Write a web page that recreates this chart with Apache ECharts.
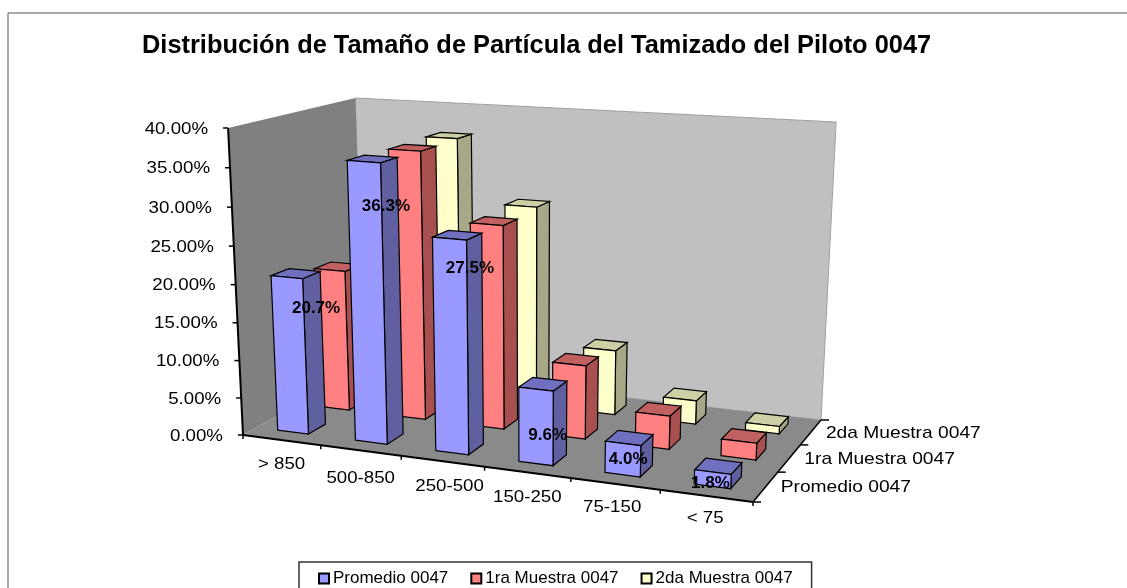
<!DOCTYPE html>
<html>
<head>
<meta charset="utf-8">
<style>html,body{margin:0;padding:0;background:#fff;overflow:hidden}#c{width:1127px;height:588px}</style>
<script src="https://cdn.jsdelivr.net/npm/echarts@6/dist/echarts.min.js"></script>
</head>
<body>
<div id="c"></div>
<script>
const chartTitle = 'Distribución de Tamaño de Partícula del Tamizado del Piloto 0047';
const categories = ['> 850', '500-850', '250-500', '150-250', '75-150', '< 75'];
const seriesNames = ['Promedio 0047', '1ra Muestra 0047', '2da Muestra 0047'];
const promedio = [20.7, 36.3, 27.5, 9.6, 4.0, 1.8];
const muestra1 = [19.3, 36.1, 27.2, 9.8, 4.4, 2.2];
const muestra2 = [22.1, 36.2, 27.6, 8.9, 3.2, 1.0];
const yTicks = [0, 5, 10, 15, 20, 25, 30, 35, 40];

// layout of the 3D box (screen pixels of its corners: front-left, front-right, back-right, back-left)
const floorQuad = [[243,435],[753,502],[821,420],[364,368]];
const topQuad = [[228,128],[765,167],[836,122],[355,98]];
const vanishX = 530, topScaleX = 1.052;
const labelShift = [[13,30],[5,44],[3,28],[-6,45],[-13,14],[-21,9]];
const categoryShift = [[2,24],[2,28],[9,25],[2,25],[-1,23],[1,22]];
const G = {left:243, top:128, width:510, height:307};

function homography(q){
  const [x0,y0]=q[0],[x1,y1]=q[1],[x2,y2]=q[2],[x3,y3]=q[3];
  const dx1=x1-x2,dx2=x3-x2,sx=x0-x1+x2-x3,dy1=y1-y2,dy2=y3-y2,sy=y0-y1+y2-y3;
  const den=dx1*dy2-dx2*dy1;
  const g=(sx*dy2-dx2*sy)/den,h=(dx1*sy-sx*dy1)/den;
  const a=x1-x0+g*x1,b=x3-x0+h*x3,d=y1-y0+g*y1,e=y3-y0+h*y3;
  return (u,v)=>{const k=g*u+h*v+1;return [(a*u+b*v+x0)/k,(d*u+e*v+y0)/k];};
}
const Hf=homography(floorQuad),Ht=homography(topQuad);
function P(u,v,w){
  const f=Hf(u,v),ty=Ht(u,v)[1],tx=vanishX+(f[0]-vanishX)*topScaleX,s=0.96*w/(1-0.04*w);
  return [f[0]+(tx-f[0])*s,f[1]+(ty-f[1])*s];
}
const poly=(pts,fill,stroke,lw)=>({type:'polygon',shape:{points:pts},style:{fill:fill,stroke:stroke||null,lineWidth:lw===undefined?1.2:lw}});
const seg=(a,b,c,lw)=>({type:'line',shape:{x1:a[0],y1:a[1],x2:b[0],y2:b[1]},style:{stroke:c||'#000',lineWidth:lw||1}});
const FONT='17px "Liberation Sans", Arial, sans-serif';
const txt=(x,y,s,align,font,sx)=>({type:'text',x:x,y:y,scaleX:sx||1.1,style:{text:s,align:align,verticalAlign:'middle',font:font||FONT,fill:'#000'}});
const uOf=api=>(i)=>(api.coord([i,0])[0]-G.left)/G.width;
const wOf=(api,val)=>(G.top+G.height-api.coord([0,val])[1])/G.height;

function frameItem(params,api){
  const c=[];
  c.push(poly([P(0,1,0),P(1,1,0),P(1,1,1),P(0,1,1)],'#c0c0c0','#a0a0a0',1));
  c.push(poly([P(0,0,0),P(0,1,0),P(0,1,1),P(0,0,1)],'#808080'));
  c.push(poly([P(0,0,0),P(1,0,0),P(1,1,0),P(0,1,0)],'#8a8a8a'));
  // axes
  c.push(seg(P(0,0,0),P(0,0,1),'#000',2));
  c.push(seg(P(0,0,0),P(1,0,0),'#000',2));
  c.push(seg(P(1,0,0),P(1,1,0),'#000',1.5));
  yTicks.forEach(t=>{const p=P(0,0,wOf(api,t));c.push(seg([p[0]-5,p[1]],p,'#000',1.5));});
  const band=api.size([1,0])[0]/G.width;
  const u0=uOf(api)(0)-band/2;
  categories.forEach((n,i)=>{const p=P(u0+band*i,0,0);c.push(seg(p,[p[0],p[1]+4],'#000',1.5));});
  const pe=P(1,0,0);c.push(seg(pe,[pe[0],pe[1]+4],'#000',1.5));
  seriesNames.forEach((n,i)=>{const p=P(1,i/3,0);c.push(seg(p,[p[0]+8,p[1]],'#000',1.5));});
  const pb=P(1,1,0);c.push(seg(pb,[pb[0]+8,pb[1]],'#000',1.5));
  return {type:'group',children:c};
}
function textItem(params,api){
  const c=[];
  yTicks.forEach(t=>{const p=P(0,0,wOf(api,t));c.push(txt(p[0]-20,p[1]+1,t.toFixed(2)+'%','right'));});
  categories.forEach((n,i)=>{const p=P(uOf(api)(i),0,0);c.push(txt(p[0]+categoryShift[i][0]-2,p[1]+categoryShift[i][1],n,'center'));});
  seriesNames.forEach((n,i)=>{const p=P(1,(i+0.5)/3,0);c.push(txt(p[0]+15,p[1]+1,n,'left',FONT,1.13));});
  promedio.forEach((val,i)=>{
    const band=api.size([1,0])[0]/G.width,um=uOf(api)(i);
    const p=P(um+band*0.2-0.004,0.105,wOf(api,val));
    c.push(txt(p[0]+labelShift[i][0],p[1]+labelShift[i][1],val.toFixed(1)+'%','center','bold 17px "Liberation Sans", Arial, sans-serif',1));
  });
  return {type:'group',children:c};
}
function barRenderer(depth,front,side,top){
  return function(params,api){
    const i=api.value(0),val=api.value(1);
    const um=(api.coord([i,0])[0]-G.left)/G.width-0.004;
    const hb=api.size([1,0])[0]/G.width*0.2;
    const w=wOf(api,val);
    const v0=(depth+0.5)/3-0.065,v1=(depth+0.5)/3+0.07,u0=um-hb,u1=um+hb;
    return {type:'group',children:[
      poly([P(u1,v0,0),P(u1,v1,0),P(u1,v1,w),P(u1,v0,w)],side,'#000'),
      poly([P(u0,v0,w),P(u1,v0,w),P(u1,v1,w),P(u0,v1,w)],top,'#000'),
      poly([P(u0,v0,0),P(u1,v0,0),P(u1,v0,w),P(u0,v0,w)],front,'#000')
    ]};
  };
}
const toData=a=>a.map((v,i)=>[i,v]);
const chart=echarts.init(document.getElementById('c'),null,{renderer:'canvas'});
chart.setOption({
  animation:false,
  backgroundColor:'#fff',
  title:{text:chartTitle,left:142,top:33,padding:0,textStyle:{color:'#000',fontWeight:'bold',fontSize:25.4,fontFamily:'"Liberation Sans", Arial, sans-serif'}},
  graphic:[{type:'rect',silent:true,z:-10,shape:{x:8,y:13,width:1300,height:800},style:{fill:'#fff',stroke:'#555',lineWidth:1}}],
  legend:{
    data:seriesNames,left:299,top:562,orient:'horizontal',padding:[8,19,12,19],
    borderColor:'#333',borderWidth:1.5,backgroundColor:'#fff',
    itemWidth:10,itemHeight:10,itemGap:22,icon:'rect',
    itemStyle:{borderColor:'#000',borderWidth:2},
    textStyle:{fontSize:17,color:'#000',padding:[0,0,0,-1],fontFamily:'"Liberation Sans", Arial, sans-serif'}
  },
  grid:{left:G.left,top:G.top,width:G.width,height:G.height},
  xAxis:{type:'category',data:categories,show:false},
  yAxis:{type:'value',min:0,max:40,interval:5,show:false},
  series:[
    {type:'custom',name:'frame',data:[[0,0]],renderItem:frameItem,silent:true,clip:false,z:1},
    {type:'custom',name:seriesNames[2],data:toData(muestra2),renderItem:barRenderer(2,'#ffffcc','#a8a888','#cfcfa6'),itemStyle:{color:'#ffffcc'},clip:false,z:2},
    {type:'custom',name:seriesNames[1],data:toData(muestra1),renderItem:barRenderer(1,'#ff8080','#a85050','#c06060'),itemStyle:{color:'#ff8080'},clip:false,z:3},
    {type:'custom',name:seriesNames[0],data:toData(promedio),renderItem:barRenderer(0,'#9999ff','#6060a0','#7070c0'),itemStyle:{color:'#9999ff'},clip:false,z:4},
    {type:'custom',name:'texts',data:[[0,0]],renderItem:textItem,silent:true,clip:false,z:5}
  ]
});
</script>
</body>
</html>
